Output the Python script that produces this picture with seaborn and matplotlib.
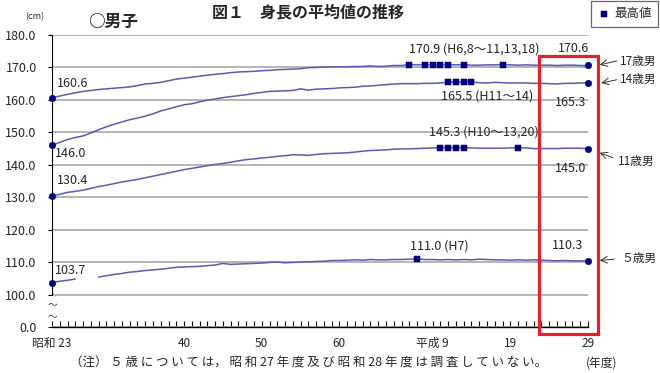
import numpy as np
import pandas as pd
import matplotlib
matplotlib.use("Agg")
import matplotlib.pyplot as plt
from matplotlib.patches import Rectangle
from matplotlib.ticker import MultipleLocator
import seaborn as sns

years = list(range(1948, 2018))

h17 = [160.6, 161.2, 161.7, 162.2, 162.6, 162.9, 163.2, 163.4, 163.6, 163.8,
       164.0, 164.4, 164.9, 165.1, 165.4, 165.9, 166.4, 166.7, 167.0, 167.3,
       167.6, 167.9, 168.1, 168.4, 168.6, 168.7, 168.8, 169.0, 169.1, 169.3,
       169.4, 169.5, 169.6, 169.9, 170.0, 170.1, 170.2, 170.2, 170.2, 170.3,
       170.3, 170.5, 170.3, 170.4, 170.6, 170.6, 170.9, 170.8, 170.9, 170.9,
       170.9, 170.9, 170.8, 170.9, 170.7, 170.7, 170.8, 170.8, 170.9, 170.8,
       170.7, 170.8, 170.7, 170.7, 170.7, 170.6, 170.7, 170.7, 170.6, 170.6]

h14 = [146.0, 146.9, 147.8, 148.4, 148.9, 149.8, 150.8, 151.7, 152.5, 153.2,
       153.9, 154.4, 155.0, 155.7, 156.6, 157.2, 157.9, 158.5, 158.8, 159.4,
       159.9, 160.3, 160.7, 161.0, 161.3, 161.6, 162.0, 162.3, 162.6, 162.7,
       162.8, 162.9, 163.4, 163.0, 163.3, 163.4, 163.5, 163.7, 163.8, 163.9,
       164.2, 164.3, 164.5, 164.7, 164.9, 165.0, 165.0, 165.0, 165.1, 165.1,
       165.2, 165.5, 165.5, 165.5, 165.5, 165.3, 165.2, 165.4, 165.3, 165.2,
       165.2, 165.2, 165.1, 165.1, 165.0, 164.9, 165.1, 165.1, 165.2, 165.3]

h11 = [130.4, 130.9, 131.5, 131.8, 132.2, 132.7, 133.3, 133.7, 134.2, 134.7,
       135.1, 135.5, 136.0, 136.5, 137.0, 137.5, 138.0, 138.5, 138.9, 139.3,
       139.7, 140.1, 140.4, 140.8, 141.2, 141.6, 141.8, 142.1, 142.3, 142.6,
       142.8, 143.1, 143.0, 142.9, 143.2, 143.4, 143.5, 143.6, 143.7, 143.9,
       144.2, 144.4, 144.5, 144.6, 144.8, 144.9, 144.9, 145.0, 145.1, 145.2,
       145.3, 145.3, 145.3, 145.3, 145.2, 145.1, 145.1, 145.1, 145.1, 145.2,
       145.3, 145.2, 145.0, 145.0, 145.0, 145.0, 145.1, 145.1, 145.1, 145.0]

# 昭和27・28年度は5歳の調査なし
h5 = [103.7, 104.1, 104.4, 104.8, np.nan, np.nan, 105.4, 105.8, 106.2, 106.5,
      106.9, 107.1, 107.4, 107.6, 107.8, 108.1, 108.4, 108.5, 108.6, 108.7,
      108.9, 109.1, 109.6, 109.3, 109.4, 109.5, 109.6, 109.7, 109.9, 110.0,
      109.8, 109.9, 110.0, 110.1, 110.2, 110.3, 110.5, 110.5, 110.6, 110.7,
      110.6, 110.8, 110.7, 110.7, 110.8, 110.8, 110.9, 111.0, 110.8, 110.8,
      110.7, 110.8, 110.7, 110.8, 110.7, 110.9, 110.8, 110.7, 110.7, 110.6,
      110.7, 110.6, 110.7, 110.6, 110.5, 110.4, 110.5, 110.4, 110.4, 110.3]

series_names = ["17歳男", "14歳男", "11歳男", "５歳男"]
series_vals = [h17, h14, h11, h5]

max_years = {
    "17歳男": [1994, 1996, 1997, 1998, 1999, 2001, 2006],
    "14歳男": [1999, 2000, 2001, 2002],
    "11歳男": [1998, 1999, 2000, 2001, 2008],
    "５歳男": [1995],
}

tick_years = [1948, 1965, 1975, 1985, 1997, 2007, 2017]
tick_labels = ["昭和 23", "40", "50", "60", "平成 9", "19", "29"]
ytick_vals = [90, 100, 110, 120, 130, 140, 150, 160, 170, 180]
ytick_labels = ["0.0"] + [f"{v:.1f}" for v in ytick_vals[1:]]

rows = []
for name, vals in zip(series_names, series_vals):
    seg = 0
    for yr, v in zip(years, vals):
        if np.isnan(v):
            seg += 1
            continue
        rows.append({"year": yr, "height": v, "series": name, "seg": f"{name}{seg}"})
df = pd.DataFrame(rows)

ends = pd.concat([g.iloc[[0, -1]] for _, g in df.groupby("series")])
maxima = df[df.apply(lambda r: r["year"] in max_years[r["series"]], axis=1)]

sns.set_theme(style="white")
plt.rcParams["font.family"] = ["Noto Sans CJK JP", "DejaVu Sans"]

line_color = "#5b5bb5"
navy = "#000080"

fig = plt.figure(figsize=(6.6, 3.73), dpi=100)
ax = fig.add_axes([52 / 660, 1 - 327 / 373, 536 / 660, 292 / 373])

sns.lineplot(data=df, x="year", y="height", units="seg", estimator=None,
             color=line_color, lw=1.1, ax=ax, legend=False)
sns.scatterplot(data=ends, x="year", y="height", marker="o", s=22,
                color=navy, edgecolor=navy, ax=ax, zorder=5, clip_on=False)
sns.scatterplot(data=maxima, x="year", y="height", marker="s", s=20,
                color=navy, edgecolor=navy, ax=ax, zorder=5, label="最高値")

ax.set_xlim(1948, 2017)
ax.set_ylim(90, 180)
ax.set_yticks(ytick_vals, ytick_labels)
ax.set_xticks(tick_years, tick_labels)
ax.xaxis.set_minor_locator(MultipleLocator(1))
ax.yaxis.grid(True, color="#b4b4b4", lw=1.4)
ax.xaxis.grid(False)
ax.set_xlabel("")
ax.set_ylabel("")
ax.tick_params(axis="x", which="both", direction="in", length=4, width=0.8,
               bottom=True, pad=7, labelsize=8.5, color="black")
ax.tick_params(axis="y", direction="out", length=3, width=0.8, left=True,
               pad=8, labelsize=9, color="black")
for s in ["top", "right"]:
    ax.spines[s].set_visible(False)
ax.spines["left"].set_bounds(100, 180)
ax.spines["left"].set_color("black")
ax.spines["left"].set_linewidth(0.8)
ax.spines["bottom"].set_color("black")
ax.spines["bottom"].set_linewidth(1.0)

# 軸の省略記号
ax.text(1948.1, 96.9, "～", ha="center", va="center", fontsize=7, color="#333", clip_on=False)
ax.text(1948.1, 93.2, "～", ha="center", va="center", fontsize=7, color="#333", clip_on=False)

# 数値ラベル
fs = 9
ax.text(1948.6, 164.9, "160.6", ha="left", va="center", fontsize=fs)
ax.text(1948.4, 143.4, "146.0", ha="left", va="center", fontsize=fs)
ax.text(1948.6, 135.1, "130.4", ha="left", va="center", fontsize=fs)
ax.text(1948.4, 107.4, "103.7", ha="left", va="center", fontsize=fs)
ax.text(2002.4, 175.7, "170.9 (H6,8～11,13,18)", ha="center", va="center", fontsize=fs)
ax.text(2015.1, 175.7, "170.6", ha="center", va="center", fontsize=fs)
ax.text(2004.0, 161.2, "165.5 (H11～14)", ha="center", va="center", fontsize=fs)
ax.text(2014.8, 159.1, "165.3", ha="center", va="center", fontsize=fs)
ax.text(2003.6, 150.2, "145.3 (H10～13,20)", ha="center", va="center", fontsize=fs)
ax.text(2014.8, 138.8, "145.0", ha="center", va="center", fontsize=fs)
ax.text(1997.9, 115.1, "111.0 (H7)", ha="center", va="center", fontsize=fs)
ax.text(2014.4, 115.1, "110.3", ha="center", va="center", fontsize=fs)

# 系列名と矢印
side = [("17歳男", (2018.5, 170.8), (2020.7, 172.0), (2021.1, 172.0)),
        ("14歳男", (2018.7, 165.2), (2020.7, 166.2), (2021.1, 166.2)),
        ("11歳男", (2018.5, 143.7), (2020.2, 142.2), (2020.8, 141.0)),
        ("５歳男", (2018.5, 110.5), (2020.4, 110.9), (2021.3, 111.1))]
for name, tip, tail, pos in side:
    ax.annotate("", xy=tip, xytext=tail, annotation_clip=False,
                arrowprops=dict(arrowstyle="->", lw=0.7, color="#333333",
                                shrinkA=0, shrinkB=0))
    ax.text(pos[0], pos[1], name, ha="left", va="center", fontsize=8.5, clip_on=False)

leg = ax.legend(loc="upper right", bbox_to_anchor=(658 / 660, 1 - 1 / 373),
                bbox_transform=fig.transFigure, frameon=True, fancybox=False,
                edgecolor="#444444", fontsize=9, handletextpad=0.2,
                borderpad=0.5, handlelength=1.2, borderaxespad=0)
leg.get_frame().set_linewidth(0.9)

fig.text(308 / 660, 1 - 12 / 373, "図１　身長の平均値の推移", ha="center", va="center",
         fontsize=11.5, fontweight="bold")
fig.text(88 / 660, 1 - 22 / 373, "○男子", ha="left", va="center", fontsize=12, fontweight="bold")
fig.text(25 / 660, 1 - 17 / 373, "(cm)", ha="left", va="center", fontsize=6.5)
fig.text(70 / 660, 1 - 363 / 373,
         "（注） ５ 歳 に つ い て は， 昭 和 27 年 度 及 び 昭 和 28 年 度 は 調 査 し て い な い。",
         ha="left", va="center", fontsize=9)
fig.text(586 / 660, 1 - 363 / 373, "(年度)", ha="left", va="center", fontsize=8.5)

fig.patches.append(Rectangle((539 / 660, 1 - 334 / 373), 59 / 660, 278 / 373,
                             transform=fig.transFigure, fill=False,
                             edgecolor="#e8202a", lw=2.3, zorder=10))

fig.savefig("out.png", dpi=100)
